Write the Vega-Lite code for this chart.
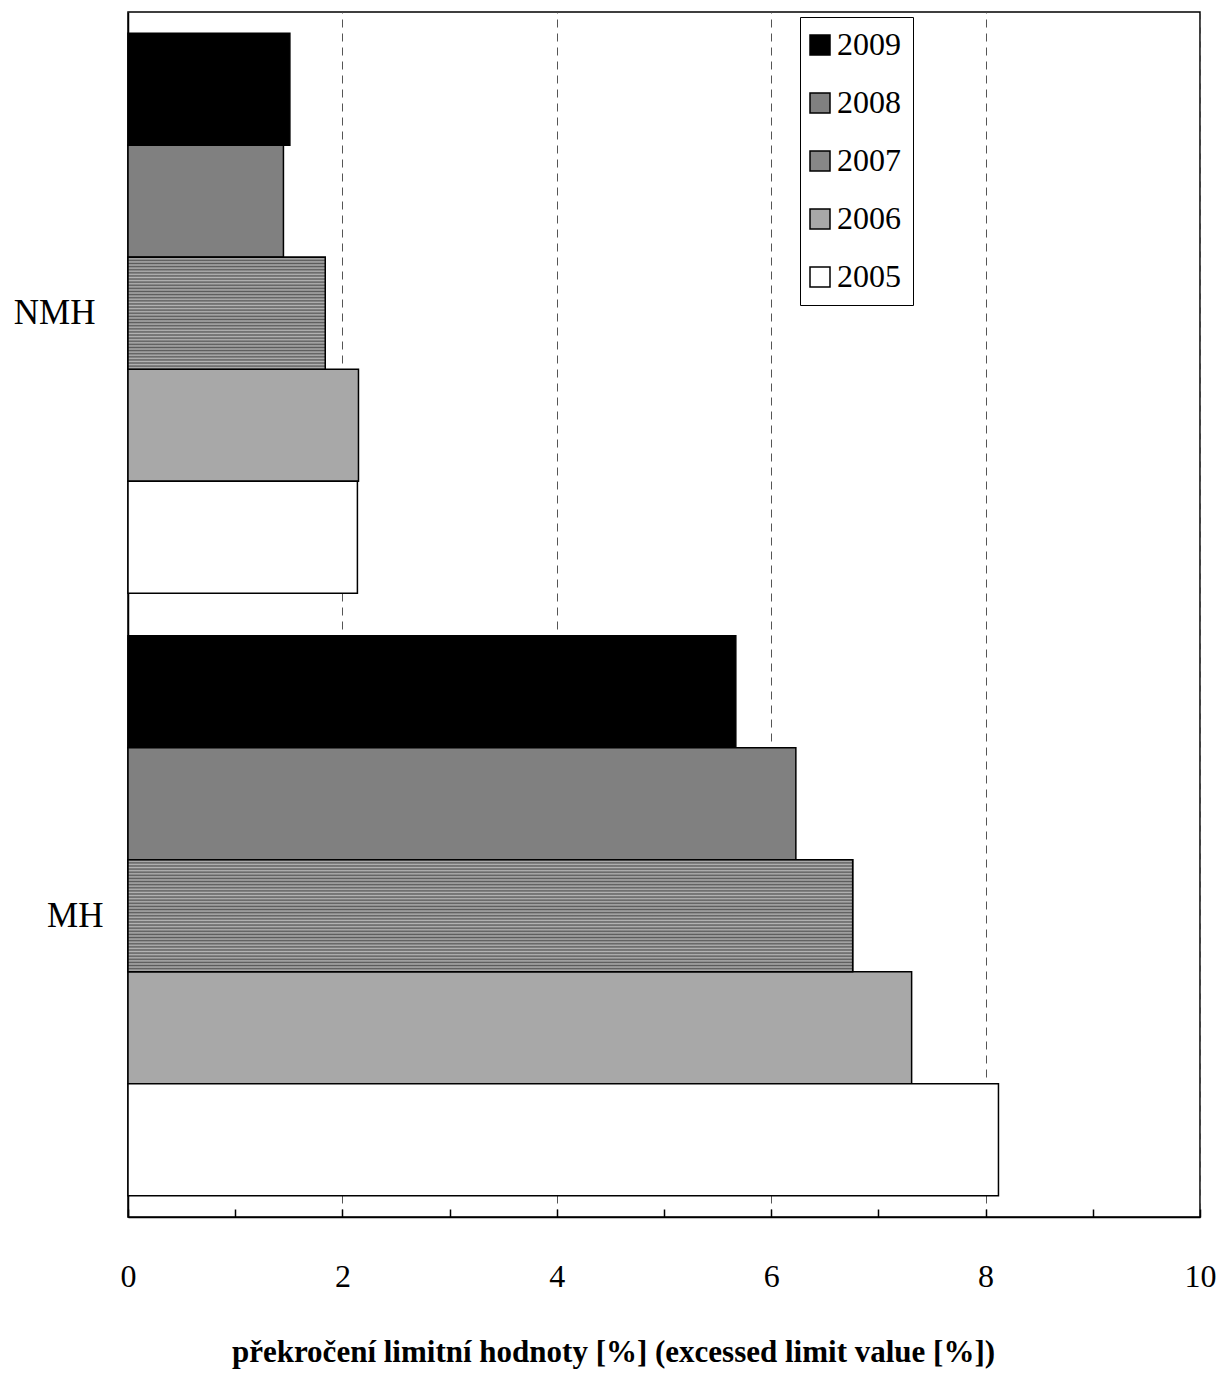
{
  "$schema": "https://vega.github.io/schema/vega-lite/v6.json",
  "width": 1072,
  "height": 1205,
  "autosize": {"type": "none"},
  "padding": {"left": 128, "top": 12, "right": 19, "bottom": 157},
  "background": "white",
  "view": {"stroke": "black", "strokeWidth": 1.5},
  "config": {"font": "Liberation Serif"},
  "data": {
    "values": [
      {"group": "NMH", "year": "2009", "value": 1.51},
      {"group": "NMH", "year": "2008", "value": 1.45},
      {"group": "NMH", "year": "2007", "value": 1.84},
      {"group": "NMH", "year": "2006", "value": 2.15},
      {"group": "NMH", "year": "2005", "value": 2.14},
      {"group": "MH", "year": "2009", "value": 5.67},
      {"group": "MH", "year": "2008", "value": 6.23},
      {"group": "MH", "year": "2007", "value": 6.76},
      {"group": "MH", "year": "2006", "value": 7.31},
      {"group": "MH", "year": "2005", "value": 8.12}
    ]
  },
  "encoding": {
    "y": {
      "field": "group",
      "type": "nominal",
      "sort": ["NMH", "MH"],
      "scale": {"domain": ["NMH", "MH"], "paddingInner": 0, "paddingOuter": 0},
      "axis": {
        "title": null,
        "labelFont": "Liberation Serif",
        "labelFontSize": 35,
        "labelColor": "black",
        "labelPadding": {"condition": {"test": "datum.value == 'MH'", "value": 33}, "value": 41},
        "tickSize": -8,
        "tickColor": "black",
        "tickWidth": 2,
        "domainColor": "black",
        "domainWidth": 1.5
      }
    },
    "yOffset": {
      "field": "year",
      "type": "nominal",
      "scale": {"domain": ["2009", "2008", "2007", "2006", "2005"], "paddingInner": 0, "paddingOuter": 0.19}
    },
    "x": {
      "field": "value",
      "type": "quantitative",
      "scale": {"domain": [0, 10], "nice": false},
      "axis": {
        "values": [0, 1, 2, 3, 4, 5, 6, 7, 8, 9, 10],
        "labelExpr": "datum.value % 2 == 0 ? datum.label : ''",
        "labelFlush": false,
        "labelFont": "Liberation Serif",
        "labelFontSize": 32,
        "labelColor": "black",
        "labelPadding": 52,
        "tickSize": -8,
        "tickColor": "black",
        "tickWidth": 1.5,
        "domainColor": "black",
        "domainWidth": 1.5,
        "grid": true,
        "gridColor": "#555555",
        "gridDash": [8, 6],
        "gridWidth": 1,
        "gridOpacity": {"condition": {"test": "datum.value % 2 == 0", "value": 1}, "value": 0},
        "title": "překročení limitní hodnoty [%] (excessed limit value [%])",
        "titleFont": "Liberation Serif",
        "titleFontSize": 31,
        "titleFontWeight": "bold",
        "titleColor": "black",
        "titleX": 485,
        "titleY": 144,
        "titleAlign": "center",
        "titleBaseline": "alphabetic"
      }
    }
  },
  "layer": [
    {
      "mark": {"type": "bar", "stroke": "black", "strokeWidth": 1.5},
      "encoding": {
        "fill": {
          "field": "year",
          "type": "nominal",
          "sort": ["2009", "2008", "2007", "2006", "2005"],
          "scale": {
            "domain": ["2009", "2008", "2007", "2006", "2005"],
            "range": ["#000000", "#808080", "#878787", "#a8a8a8", "#ffffff"]
          },
          "legend": {
            "title": null,
            "orient": "none",
            "legendX": 672,
            "legendY": 5,
            "direction": "vertical",
            "strokeColor": "black",
            "fillColor": "white",
            "padding": 12,
            "symbolType": "square",
            "symbolSize": 400,
            "symbolOffset": -8,
            "symbolStrokeColor": "black",
            "symbolStrokeWidth": 1.5,
            "labelFont": "Liberation Serif",
            "labelFontSize": 32,
            "labelColor": "black",
            "labelLimit": 200,
            "rowPadding": 26,
            "labelOffset": 1
          }
        }
      }
    },
    {
      "transform": [{"filter": "datum.year == '2007'"}],
      "mark": {
        "type": "bar",
        "stroke": "black",
        "strokeWidth": 1.5,
        "fill": {"gradient": "linear", "x1": 0, "y1": 0, "x2": 0, "y2": 1, "stops": [
          {"offset": 0, "color": "#5a5a5a"}, {"offset": 0.013889, "color": "#b4b4b4"},
          {"offset": 0.027778, "color": "#5a5a5a"}, {"offset": 0.041667, "color": "#b4b4b4"},
          {"offset": 0.055556, "color": "#5a5a5a"}, {"offset": 0.069444, "color": "#b4b4b4"},
          {"offset": 0.083333, "color": "#5a5a5a"}, {"offset": 0.097222, "color": "#b4b4b4"},
          {"offset": 0.111111, "color": "#5a5a5a"}, {"offset": 0.125, "color": "#b4b4b4"},
          {"offset": 0.138889, "color": "#5a5a5a"}, {"offset": 0.152778, "color": "#b4b4b4"},
          {"offset": 0.166667, "color": "#5a5a5a"}, {"offset": 0.180556, "color": "#b4b4b4"},
          {"offset": 0.194444, "color": "#5a5a5a"}, {"offset": 0.208333, "color": "#b4b4b4"},
          {"offset": 0.222222, "color": "#5a5a5a"}, {"offset": 0.236111, "color": "#b4b4b4"},
          {"offset": 0.25, "color": "#5a5a5a"}, {"offset": 0.263889, "color": "#b4b4b4"},
          {"offset": 0.277778, "color": "#5a5a5a"}, {"offset": 0.291667, "color": "#b4b4b4"},
          {"offset": 0.305556, "color": "#5a5a5a"}, {"offset": 0.319444, "color": "#b4b4b4"},
          {"offset": 0.333333, "color": "#5a5a5a"}, {"offset": 0.347222, "color": "#b4b4b4"},
          {"offset": 0.361111, "color": "#5a5a5a"}, {"offset": 0.375, "color": "#b4b4b4"},
          {"offset": 0.388889, "color": "#5a5a5a"}, {"offset": 0.402778, "color": "#b4b4b4"},
          {"offset": 0.416667, "color": "#5a5a5a"}, {"offset": 0.430556, "color": "#b4b4b4"},
          {"offset": 0.444444, "color": "#5a5a5a"}, {"offset": 0.458333, "color": "#b4b4b4"},
          {"offset": 0.472222, "color": "#5a5a5a"}, {"offset": 0.486111, "color": "#b4b4b4"},
          {"offset": 0.5, "color": "#5a5a5a"}, {"offset": 0.513889, "color": "#b4b4b4"},
          {"offset": 0.527778, "color": "#5a5a5a"}, {"offset": 0.541667, "color": "#b4b4b4"},
          {"offset": 0.555556, "color": "#5a5a5a"}, {"offset": 0.569444, "color": "#b4b4b4"},
          {"offset": 0.583333, "color": "#5a5a5a"}, {"offset": 0.597222, "color": "#b4b4b4"},
          {"offset": 0.611111, "color": "#5a5a5a"}, {"offset": 0.625, "color": "#b4b4b4"},
          {"offset": 0.638889, "color": "#5a5a5a"}, {"offset": 0.652778, "color": "#b4b4b4"},
          {"offset": 0.666667, "color": "#5a5a5a"}, {"offset": 0.680556, "color": "#b4b4b4"},
          {"offset": 0.694444, "color": "#5a5a5a"}, {"offset": 0.708333, "color": "#b4b4b4"},
          {"offset": 0.722222, "color": "#5a5a5a"}, {"offset": 0.736111, "color": "#b4b4b4"},
          {"offset": 0.75, "color": "#5a5a5a"}, {"offset": 0.763889, "color": "#b4b4b4"},
          {"offset": 0.777778, "color": "#5a5a5a"}, {"offset": 0.791667, "color": "#b4b4b4"},
          {"offset": 0.805556, "color": "#5a5a5a"}, {"offset": 0.819444, "color": "#b4b4b4"},
          {"offset": 0.833333, "color": "#5a5a5a"}, {"offset": 0.847222, "color": "#b4b4b4"},
          {"offset": 0.861111, "color": "#5a5a5a"}, {"offset": 0.875, "color": "#b4b4b4"},
          {"offset": 0.888889, "color": "#5a5a5a"}, {"offset": 0.902778, "color": "#b4b4b4"},
          {"offset": 0.916667, "color": "#5a5a5a"}, {"offset": 0.930556, "color": "#b4b4b4"},
          {"offset": 0.944444, "color": "#5a5a5a"}, {"offset": 0.958333, "color": "#b4b4b4"},
          {"offset": 0.972222, "color": "#5a5a5a"}, {"offset": 0.986111, "color": "#b4b4b4"},
          {"offset": 1, "color": "#5a5a5a"}
        ]}
      }
    }
  ]
}
